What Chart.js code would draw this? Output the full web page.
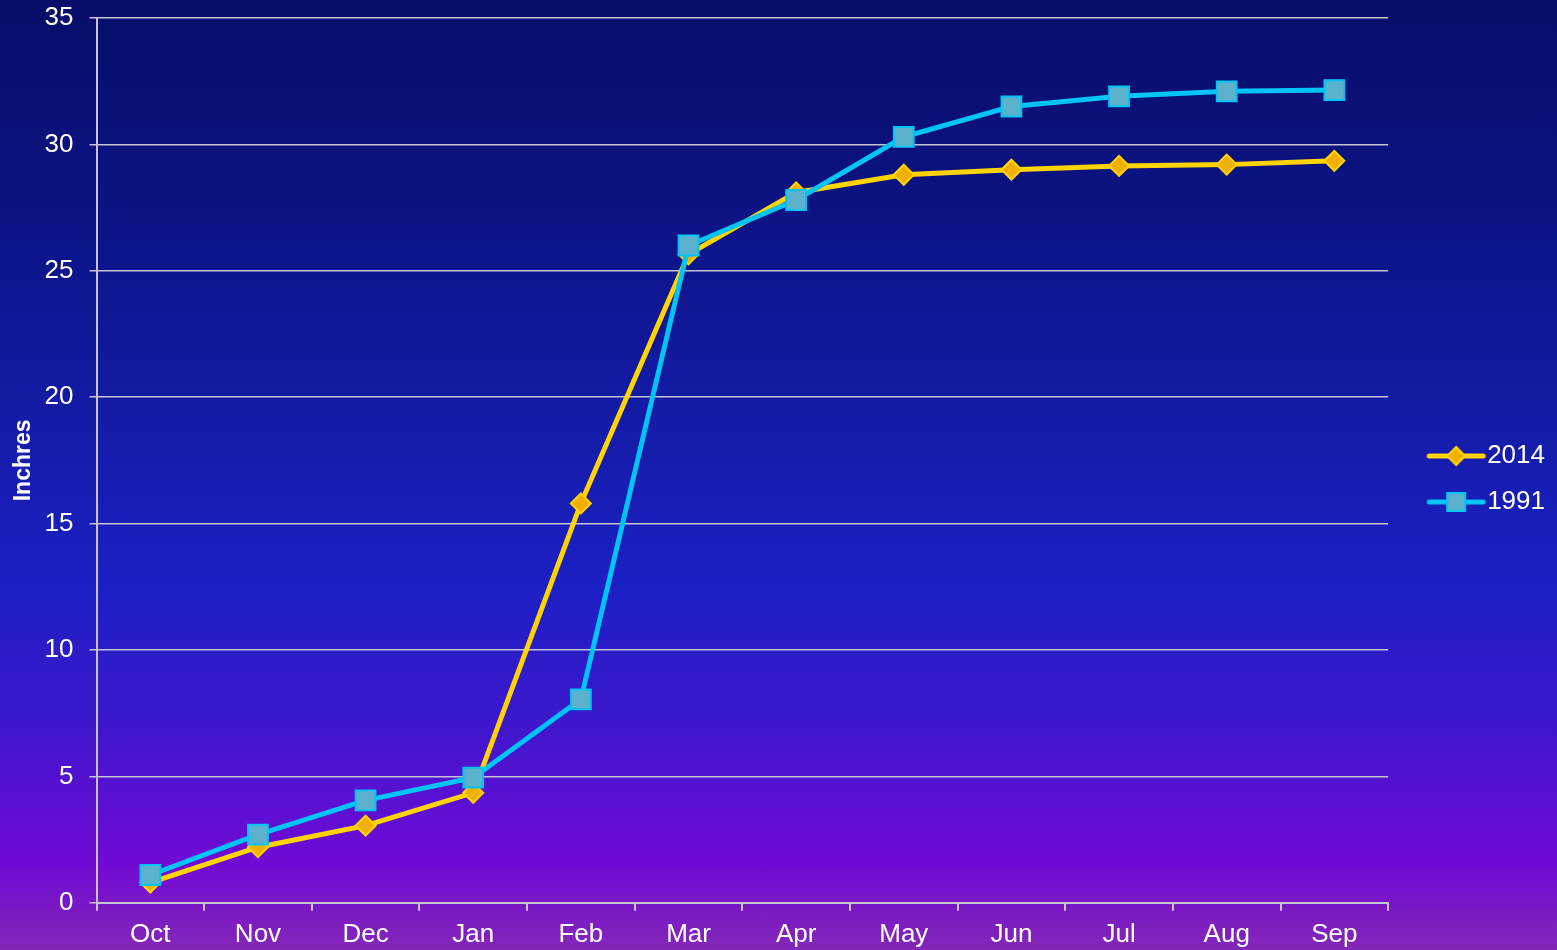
<!DOCTYPE html>
<html>
<head>
<meta charset="utf-8">
<script src="https://cdn.jsdelivr.net/npm/chart.js@4.4.0/dist/chart.umd.min.js"></script>
<style>
  html, body { margin: 0; padding: 0; }
  body {
    width: 1557px; height: 950px; overflow: hidden;
    background: linear-gradient(to bottom, #080d68 0%, #0c1488 25%, #141ca8 45%, #1c20c4 62%, #3a18cc 75%, #5a10d2 84%, #700ad4 91%, #8426b8 100%);
  }
  canvas { display: block; }
</style>
</head>
<body>
<canvas id="chart" width="1557" height="950"></canvas>
<script>
  // months of the water year
  var months = ['Oct','Nov','Dec','Jan','Feb','Mar','Apr','May','Jun','Jul','Aug','Sep'];
  // cumulative precipitation, inches
  var rain2014 = [0.8, 2.2, 3.05, 4.35, 15.8, 25.65, 28.1, 28.8, 29.0, 29.15, 29.2, 29.35];
  var rain1991 = [1.1, 2.7, 4.05, 4.95, 8.05, 26.0, 27.8, 30.3, 31.5, 31.9, 32.1, 32.15];
  var yTicks = [0, 5, 10, 15, 20, 25, 30, 35];

  var yellow = '#ffd400';
  var yellowFill = '#f0b000';
  var blue = '#00c4f4';
  var blueFill = '#5cb2cc';
  var fontName = 'Liberation Sans, Arial';

  // little line + marker images for the legend (drawn in the right part, image is centred on the box)
  function legendIcon(lineColor, fill, shape) {
    var c = document.createElement('canvas');
    c.width = 92; c.height = 22;
    var ctx = c.getContext('2d');
    var a = 34, m = a + 27;
    ctx.strokeStyle = lineColor;
    ctx.lineWidth = 5;
    ctx.lineCap = 'round';
    ctx.beginPath(); ctx.moveTo(a, 11); ctx.lineTo(a + 54, 11); ctx.stroke();
    ctx.fillStyle = fill;
    ctx.lineWidth = 2;
    ctx.beginPath();
    if (shape == 'diamond') {
      ctx.moveTo(m, 2); ctx.lineTo(m + 9, 11); ctx.lineTo(m, 20); ctx.lineTo(m - 9, 11); ctx.closePath();
    } else {
      ctx.rect(m - 9, 2, 18, 18);
    }
    ctx.fill(); ctx.stroke();
    return c;
  }
  var icon2014 = legendIcon(yellow, yellowFill, 'diamond');
  var icon1991 = legendIcon(blue, blueFill, 'square');

  new Chart(document.getElementById('chart'), {
    type: 'line',
    data: {
      labels: months,
      datasets: [
        {
          label: '1991',
          data: rain1991,
          borderColor: blue,
          backgroundColor: blueFill,
          pointBorderColor: blue,
          borderWidth: 5,
          pointStyle: 'rect',
          pointRadius: 14,
          pointBorderWidth: 2,
          fill: false,
          order: 1
        },
        {
          label: '2014',
          data: rain2014,
          borderColor: yellow,
          backgroundColor: yellowFill,
          pointBorderColor: yellow,
          borderWidth: 5,
          pointStyle: 'rectRot',
          pointRadius: 10,
          pointBorderWidth: 2,
          fill: false,
          order: 2
        }
      ]
    },
    options: {
      responsive: false,
      animation: false,
      layout: { padding: { left: 1, right: 2, top: 0, bottom: -8 } },
      plugins: {
        tooltip: { enabled: false },
        legend: {
          position: 'right',
          maxWidth: 167,
          labels: {
            color: '#ffffff',
            font: { family: fontName, size: 26 },
            usePointStyle: true,
            pointStyleWidth: 66,
            boxHeight: 22,
            padding: 20,
            generateLabels: function (chart) {
              return [
                { text: '2014', pointStyle: icon2014, fontColor: '#ffffff', datasetIndex: 1, lineWidth: 0, strokeStyle: 'transparent', fillStyle: 'transparent' },
                { text: '1991', pointStyle: icon1991, fontColor: '#ffffff', datasetIndex: 0, lineWidth: 0, strokeStyle: 'transparent', fillStyle: 'transparent' }
              ];
            }
          }
        }
      },
      scales: {
        x: {
          offset: true,
          grid: {
            offset: true,
            drawOnChartArea: false,
            drawTicks: true,
            tickLength: 8,
            color: '#c4c4d4',
            lineWidth: 2
          },
          border: { display: true, color: '#c4c4d4', width: 2 },
          ticks: {
            color: '#ffffff',
            font: { family: fontName, size: 26 },
            padding: 8,
            maxRotation: 0
          }
        },
        y: {
          min: 0,
          max: 35,
          afterBuildTicks: function (axis) {
            axis.ticks = yTicks.map(function (v) { return { value: v }; });
          },
          afterFit: function (axis) {
            // room above the top label only, not the tick padding
            axis.paddingTop = 18;
          },
          grid: {
            color: '#c4c4d4',
            lineWidth: 1.5,
            tickLength: 7
          },
          border: { display: true, color: '#c4c4d4', width: 2 },
          ticks: {
            color: '#ffffff',
            font: { family: fontName, size: 26 },
            padding: 16
          },
          title: {
            display: true,
            text: 'Inchres',
            color: '#ffffff',
            font: { family: fontName, size: 23, weight: 'bold' },
            padding: { top: 9, bottom: -9 }
          }
        }
      }
    }
  });
</script>
</body>
</html>
